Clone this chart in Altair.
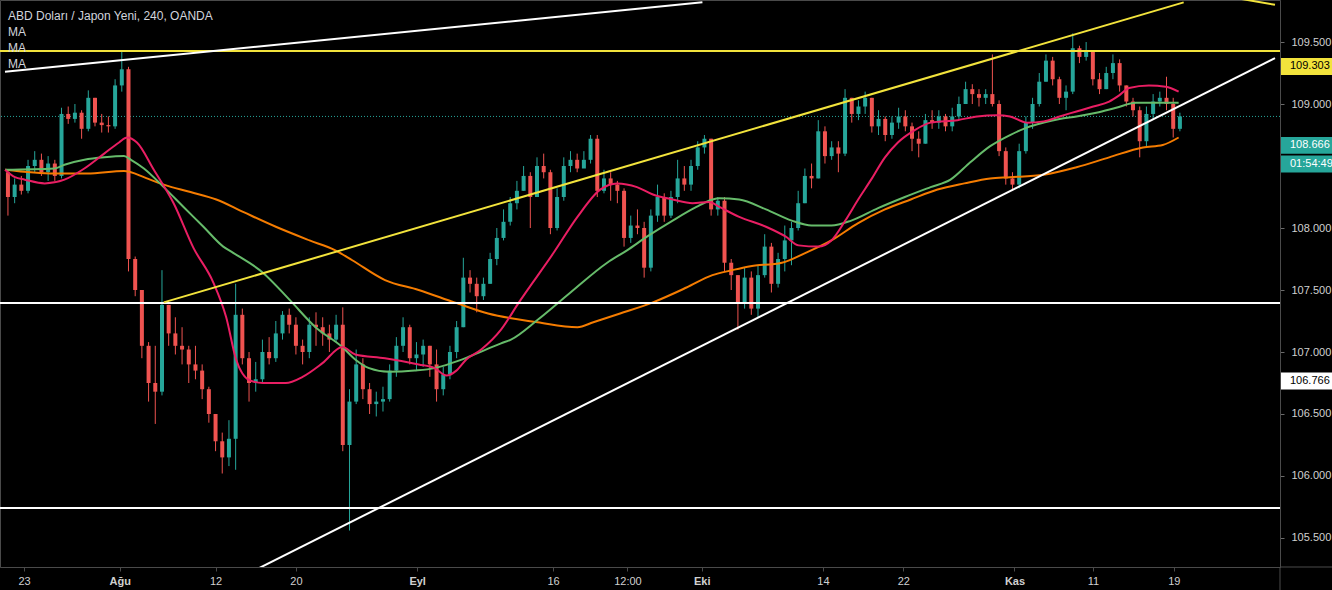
import altair as alt
import pandas as pd

# ---------------- candles (each bar = 12 h) ----------------
first_open = 108.45
close = [108.25, 108.35, 108.30, 108.50, 108.55, 108.45, 108.52, 108.42, 108.92, 108.88,
         108.93, 108.80, 109.05, 108.85, 108.83, 108.82, 109.15, 109.28, 107.75, 107.50,
         107.05, 106.75, 106.68, 107.38, 107.15, 107.05, 107.02, 106.90, 106.85, 106.70,
         106.50, 106.28, 106.15, 106.30, 107.30, 106.95, 106.75, 106.78, 107.00, 106.95,
         107.15, 107.30, 107.22, 107.05, 107.00, 107.22, 107.20, 107.15, 107.10, 107.22,
         106.25, 106.60, 106.90, 106.70, 106.58, 106.60, 106.62, 106.85, 107.05, 107.20,
         106.95, 106.98, 107.05, 106.90, 106.70, 106.82, 107.00, 107.20, 107.60, 107.55,
         107.45, 107.55, 107.75, 107.92, 108.05, 108.20, 108.30, 108.42, 108.25, 108.50,
         108.45, 108.00, 108.25, 108.50, 108.55, 108.48, 108.55, 108.72, 108.30, 108.40,
         108.35, 108.30, 107.92, 108.02, 108.00, 107.68, 108.10, 108.25, 108.10, 108.25,
         108.40, 108.35, 108.50, 108.65, 108.72, 108.15, 108.22, 107.72, 107.62, 107.40,
         107.60, 107.35, 107.62, 107.85, 107.55, 107.75, 107.90, 108.00, 108.20, 108.42,
         108.40, 108.78, 108.58, 108.65, 108.60, 109.05, 108.92, 108.98, 109.05, 108.82,
         108.88, 108.75, 108.85, 108.90, 108.82, 108.72, 108.68, 108.87, 108.85, 108.90,
         108.82, 108.90, 109.00, 109.12, 109.08, 109.05, 109.08, 109.00, 108.62, 108.40,
         108.35, 108.62, 108.85, 109.00, 109.18, 109.35, 109.20, 109.05, 109.10, 109.45,
         109.38, 109.42, 109.20, 109.12, 109.25, 109.33, 109.15, 109.02, 108.95, 108.70,
         108.92, 109.02, 109.05, 109.00, 108.80, 108.90]
high = [108.47, 108.40, 108.42, 108.55, 108.62, 108.60, 108.58, 108.55, 108.97, 108.98,
        109.00, 108.95, 109.11, 109.05, 108.92, 108.90, 109.20, 109.42, 109.30, 107.77,
        107.50, 107.08, 107.05, 107.66, 107.38, 107.28, 107.20, 107.05, 107.05, 106.90,
        106.72, 106.50, 106.35, 106.45, 107.55, 107.35, 107.00, 106.92, 107.10, 107.12,
        107.25, 107.33, 107.35, 107.28, 107.10, 107.28, 107.32, 107.28, 107.22, 107.30,
        107.36, 106.70, 107.02, 106.95, 106.75, 106.68, 106.72, 106.90, 107.12, 107.28,
        107.22, 107.08, 107.10, 107.05, 107.02, 106.88, 107.05, 107.25, 107.76, 107.66,
        107.60, 107.60, 107.80, 108.00, 108.15, 108.25, 108.38, 108.50, 108.45, 108.57,
        108.60, 108.47, 108.32, 108.57, 108.62, 108.60, 108.62, 108.75, 108.75, 108.47,
        108.45, 108.38, 108.32, 108.10, 108.15, 108.05, 108.15, 108.35, 108.28, 108.30,
        108.55, 108.50, 108.55, 108.70, 108.75, 108.72, 108.25, 108.25, 107.75, 107.62,
        107.68, 107.65, 107.70, 107.95, 107.88, 107.80, 108.02, 108.05, 108.30, 108.48,
        108.52, 108.87, 108.82, 108.70, 108.70, 109.12, 109.05, 109.03, 109.10, 109.05,
        108.95, 108.90, 108.90, 108.97, 108.95, 108.85, 108.78, 108.92, 108.95, 108.95,
        108.92, 108.97, 109.06, 109.18, 109.16, 109.12, 109.12, 109.40, 109.03, 108.65,
        108.45, 108.68, 108.90, 109.05, 109.25, 109.40, 109.38, 109.22, 109.15, 109.57,
        109.47, 109.50, 109.42, 109.25, 109.30, 109.40, 109.36, 109.15, 109.05, 108.98,
        108.98, 109.08, 109.10, 109.22, 109.05, 108.93]
low = [108.10, 108.20, 108.27, 108.28, 108.45, 108.42, 108.38, 108.38, 108.40, 108.84,
       108.85, 108.72, 108.78, 108.82, 108.77, 108.77, 108.80, 109.10, 107.65, 107.45,
       106.95, 106.60, 106.42, 106.65, 107.05, 106.98, 106.90, 106.75, 106.78, 106.62,
       106.43, 106.20, 106.02, 106.08, 106.05, 106.90, 106.60, 106.68, 106.75, 106.90,
       106.92, 107.10, 107.15, 106.98, 106.90, 106.95, 107.05, 107.05, 107.00, 107.08,
       106.20, 105.56, 106.58, 106.62, 106.50, 106.48, 106.52, 106.60, 106.80, 107.00,
       106.90, 106.85, 106.88, 106.80, 106.60, 106.65, 106.78, 106.95, 107.20, 107.48,
       107.32, 107.42, 107.55, 107.70, 107.90, 108.02, 108.15, 108.30, 108.00, 108.25,
       108.40, 107.95, 107.98, 108.22, 108.45, 108.45, 108.50, 108.52, 108.25, 108.28,
       108.22, 108.20, 107.85, 107.88, 107.95, 107.60, 107.65, 108.05, 108.05, 108.08,
       108.20, 108.30, 108.30, 108.47, 108.60, 108.10, 108.10, 107.65, 107.50, 107.18,
       107.35, 107.30, 107.28, 107.60, 107.48, 107.52, 107.65, 107.70, 107.98, 108.20,
       108.32, 108.40, 108.52, 108.55, 108.45, 108.58, 108.85, 108.87, 108.92, 108.77,
       108.75, 108.70, 108.72, 108.80, 108.78, 108.62, 108.57, 108.68, 108.80, 108.80,
       108.78, 108.78, 108.88, 109.00, 109.00, 108.98, 109.00, 108.98, 108.58, 108.35,
       108.30, 108.32, 108.60, 108.80, 108.98, 109.18, 109.15, 109.00, 108.95, 109.08,
       109.33, 109.35, 109.15, 109.08, 109.12, 109.20, 109.10, 108.98, 108.90, 108.57,
       108.65, 108.88, 108.98, 108.95, 108.73, 108.78]

# ---------------- moving averages (bar index, price) ----------------
pink_i = [-0.44, 1.04, 2.52, 5.48, 8.44, 11.41, 14.37, 16.59, 17.78, 19.26, 21.78, 24.74,
          27.70, 30.67, 32.59, 34.07, 36.15, 38.07, 41.48, 44.0, 46.96, 49.93, 51.85, 56.30,
          61.33, 63.70, 65.48, 66.96, 68.44, 70.67, 73.63, 76.30, 81.48, 85.04, 88.44, 90.96,
          93.93, 96.30, 99.26, 102.22, 104.74, 106.22, 109.19, 113.19, 116.15, 118.07, 121.04,
          122.96, 125.04, 126.96, 128.89, 130.96, 132.89, 135.41, 137.78, 141.78, 144.74,
          147.70, 149.63, 152.15, 154.67, 157.04, 159.56, 162.07, 164.44, 165.93, 167.41,
          170.37, 172.89, 174.81]
pink_p = [108.47, 108.41, 108.39, 108.36, 108.39, 108.48, 108.60, 108.69, 108.73, 108.69,
          108.47, 108.20, 107.84, 107.56, 107.28, 106.94, 106.77, 106.75, 106.75, 106.80,
          106.91, 107.04, 106.98, 106.95, 106.90, 106.87, 106.81, 106.85, 106.94, 107.02,
          107.18, 107.40, 107.80, 108.09, 108.31, 108.36, 108.33, 108.27, 108.23, 108.20,
          108.21, 108.17, 108.09, 108.01, 107.93, 107.86, 107.85, 107.90, 108.06, 108.23,
          108.39, 108.57, 108.69, 108.79, 108.85, 108.87, 108.90, 108.91, 108.90, 108.85,
          108.86, 108.90, 108.94, 108.98, 109.02, 109.07, 109.13, 109.15, 109.14, 109.10]

green_i = [-0.44, 6.96, 8.44, 11.41, 14.37, 17.33, 18.37, 20.30, 23.26, 26.22, 29.19, 32.15,
           33.63, 38.07, 42.07, 45.93, 49.93, 51.85, 53.93, 56.89, 60.74, 63.70, 66.22, 68.74,
           73.63, 75.11, 79.11, 84.0, 89.48, 92.44, 95.41, 99.26, 102.81, 105.19, 106.22,
           109.19, 113.19, 117.04, 120.0, 122.96, 125.93, 129.93, 133.93, 137.78, 140.74,
           143.70, 146.67, 149.63, 152.15, 154.67, 157.04, 159.56, 162.52, 165.48, 168.44,
           172.44, 174.81]
green_p = [108.47, 108.48, 108.51, 108.55, 108.57, 108.58, 108.55, 108.48, 108.33, 108.17,
           108.01, 107.85, 107.80, 107.64, 107.42, 107.20, 107.04, 106.94, 106.87, 106.84,
           106.85, 106.87, 106.91, 106.96, 107.07, 107.10, 107.26, 107.48, 107.72, 107.82,
           107.93, 108.06, 108.17, 108.23, 108.24, 108.23, 108.15, 108.06, 108.02, 108.02,
           108.06, 108.16, 108.25, 108.33, 108.39, 108.53, 108.66, 108.75, 108.81, 108.85,
           108.88, 108.90, 108.93, 108.97, 109.01, 109.01, 109.01]

orange_i = [-0.44, 6.96, 11.85, 17.33, 18.37, 20.30, 23.26, 27.26, 31.11, 35.11, 40.0, 45.04,
            48.89, 51.41, 56.30, 61.33, 66.67, 71.70, 79.11, 85.04, 87.41, 91.41, 96.30,
            101.33, 105.19, 108.15, 110.67, 115.56, 119.11, 122.96, 126.96, 130.96, 134.81,
            138.81, 142.81, 146.67, 149.63, 154.67, 159.56, 164.44, 169.48, 172.44, 174.81]
orange_p = [108.47, 108.44, 108.44, 108.46, 108.45, 108.41, 108.35, 108.29, 108.23, 108.13,
            108.01, 107.90, 107.82, 107.74, 107.58, 107.50, 107.40, 107.31, 107.24, 107.20,
            107.24, 107.31, 107.40, 107.52, 107.62, 107.66, 107.69, 107.72, 107.80, 107.90,
            108.04, 108.15, 108.23, 108.31, 108.36, 108.40, 108.41, 108.43, 108.49, 108.57,
            108.65, 108.67, 108.73]

# ---------------- drawn trend lines ----------------
white_top_i = [-0.44, 103.7]
white_top_p = [109.26, 109.82]
yellow_channel_i = [23.26, 175.56]
yellow_channel_p = [107.40, 109.82]
white_rising_i = [30.0, 189.2]
white_rising_p = [105.054, 109.37]
yellow_corner_i = [181.8, 189.2]
yellow_corner_p = [109.87, 109.80]
white_levels = [107.395, 105.742]
yellow_levels = [109.427]
last_price = 108.90

# ---------------- axes ----------------
x_tick_pos = [2.4, 16.7, 31, 43, 61.1, 81.4, 92.5, 103.6, 121.7, 133.7, 150.3, 162, 174.1]
x_tick_lab = ["23", "Ağu", "12", "20", "Eyl", "16", "12:00", "Eki", "14", "22", "Kas", "11", "19"]
month_pos = [16.7, 61.1, 103.6, 150.3]
y_ticks = [105.5, 106.0, 106.5, 107.0, 107.5, 108.0, 109.0, 109.5]

# price tags on the right axis
tag_price = [109.303, 108.666, 108.516, 106.766]
tag_text = ["109.303", "108.666", "01:54:49", "106.766"]
tag_fill = ["#f2e33c", "#26a69a", "#26a69a", "#ffffff"]
tag_color = ["#000000", "#ffffff", "#ffffff", "#000000"]

title_text = "ABD Doları / Japon Yeni, 240, OANDA"
ma_text = ["MA", "MA", "MA"]

UP, DOWN = "#26a69a", "#ef5350"
PINK, GREEN, ORANGE, YELLOW, WHITE = "#e91e63", "#66bb6a", "#f57c00", "#f2e33c", "#ffffff"

# ---------------- build ----------------
opens = [first_open] + close[:-1]
cdf = pd.DataFrame({"i": list(range(len(close))), "o": opens, "c": close, "h": high, "l": low})
cdf["dir"] = ["up" if c >= o else "down" for o, c in zip(opens, close)]

xs = alt.Scale(domain=[-0.44, 189.2], nice=False, zero=False)
ys = alt.Scale(domain=[105.266, 109.839], nice=False, zero=False)

lab_expr = "".join(f"datum.value == {v} ? '{l}' : " for v, l in zip(x_tick_pos, x_tick_lab)) + "''"
bold_test = " || ".join(f"datum.value == {v}" for v in month_pos)
xaxis = alt.Axis(values=x_tick_pos, labelExpr=lab_expr, grid=False, title=None,
                 domainColor="#4a4a4a", tickColor="#4a4a4a", tickSize=4,
                 labelColor="#d0d0d0", labelFontSize=11, labelPadding=4,
                 labelFont="Liberation Sans Narrow, Liberation Sans", labelOverlap=False,
                 labelFlush=False,
                 labelFontWeight={"condition": {"test": bold_test, "value": "bold"}, "value": "normal"})
yaxis = alt.Axis(values=y_ticks, format=".3f", orient="right", grid=False, title=None,
                 domainColor="#4a4a4a", tickColor="#6a6a6a", tickSize=4,
                 labelColor="#d0d0d0", labelFontSize=11, labelPadding=7,
                 labelFont="Liberation Sans", labelOverlap=False)


def X(field="i"):
    return alt.X(f"{field}:Q", scale=xs, axis=xaxis)


def Y(field="p"):
    return alt.Y(f"{field}:Q", scale=ys, axis=yaxis)


col = alt.Color("dir:N", scale=alt.Scale(domain=["up", "down"], range=[UP, DOWN]), legend=None)

dotted = alt.Chart(pd.DataFrame({"p": [last_price]})).mark_rule(
    color=UP, strokeDash=[1, 2], strokeWidth=1).encode(y=Y())

wicks = alt.Chart(cdf).mark_rule(strokeWidth=1).encode(x=X(), y=Y("l"), y2="h:Q", color=col)
bodies = alt.Chart(cdf).mark_bar(size=4).encode(x=X(), y=Y("o"), y2="c:Q", color=col)


def line(ii, pp, color, width=2, smooth=False):
    kw = {"interpolate": "monotone"} if smooth else {}
    return alt.Chart(pd.DataFrame({"i": ii, "p": pp})).mark_line(
        color=color, strokeWidth=width, clip=True, **kw).encode(x=X(), y=Y())


ma_layers = [line(orange_i, orange_p, ORANGE, smooth=True), line(green_i, green_p, GREEN, smooth=True),
             line(pink_i, pink_p, PINK, smooth=True)]
trend_layers = [line(white_top_i, white_top_p, WHITE), line(yellow_channel_i, yellow_channel_p, YELLOW),
                line(white_rising_i, white_rising_p, WHITE), line(yellow_corner_i, yellow_corner_p, YELLOW)]

wlev = alt.Chart(pd.DataFrame({"p": white_levels})).mark_rule(color=WHITE, strokeWidth=2).encode(y=Y())
ylev = alt.Chart(pd.DataFrame({"p": yellow_levels})).mark_rule(color=YELLOW, strokeWidth=2).encode(y=Y())

tdf = pd.DataFrame({"p": tag_price, "t": tag_text, "fill": tag_fill, "tc": tag_color})
tdf["p_top"] = tdf["p"] + 0.068
tdf["p_bot"] = tdf["p"] - 0.068
tag_box = alt.Chart(tdf).mark_rect().encode(
    x=alt.value(1281), x2=alt.value(1332), y=Y("p_top"), y2="p_bot:Q",
    color=alt.Color("fill:N", scale=None))
tag_txt = alt.Chart(tdf).mark_text(align="left", baseline="middle", fontSize=11,
                                   font="Liberation Sans").encode(
    x=alt.value(1290), y=Y(), text="t:N", color=alt.Color("tc:N", scale=None))

one = pd.DataFrame({"a": [0]})
frame_h = alt.Chart(one).mark_rule(color="#4a4a4a").encode(x=alt.value(1280), x2=alt.value(1332), y=alt.value(567))
frame_v = alt.Chart(one).mark_rule(color="#4a4a4a").encode(x=alt.value(1280), y=alt.value(567), y2=alt.value(590))

texts = [alt.Chart(one).mark_text(align="left", baseline="middle", fontSize=12, font="Liberation Sans",
                                  color="#d1d4dc").encode(x=alt.value(8), y=alt.value(16), text=alt.value(title_text))]
for k, t in enumerate(ma_text):
    texts.append(alt.Chart(one).mark_text(align="left", baseline="middle", fontSize=12, font="Liberation Sans",
                                          color="#d1d4dc").encode(x=alt.value(8), y=alt.value(32 + 16 * k),
                                                                  text=alt.value(t)))

chart = alt.layer(
    dotted, wicks, bodies, *ma_layers, wlev, ylev, *trend_layers, tag_box, tag_txt, frame_h, frame_v, *texts
).properties(
    width=1280, height=567,
    padding={"left": 0, "top": 0, "right": 52, "bottom": 23},
    autosize=alt.AutoSizeParams(type="none"),
    background="#000000",
).configure_view(stroke="#4a4a4a", strokeWidth=1)

chart.save("out.html", embed_options={"renderer": "svg", "actions": False})
